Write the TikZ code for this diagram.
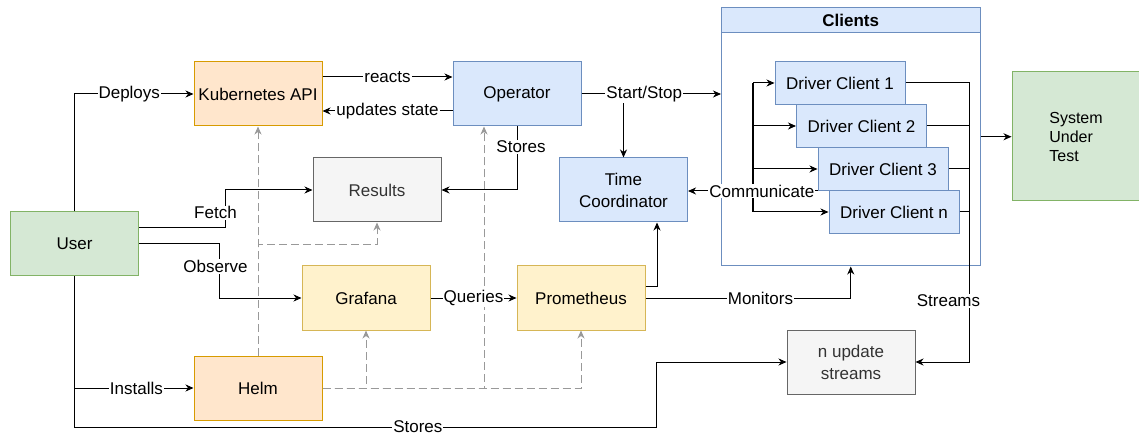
\documentclass[tikz,border=0pt]{standalone}
\usepackage{fontspec}
\setmainfont{Liberation Sans}
\usetikzlibrary{arrows.meta,calc}
\definecolor{orF}{HTML}{FFE6CC}\definecolor{orD}{HTML}{D79B00}
\definecolor{blF}{HTML}{DAE8FC}\definecolor{blD}{HTML}{6C8EBF}
\definecolor{grF}{HTML}{F5F5F5}\definecolor{grD}{HTML}{666666}\definecolor{grT}{HTML}{333333}
\definecolor{gnF}{HTML}{D5E8D4}\definecolor{gnD}{HTML}{82B366}
\definecolor{yeF}{HTML}{FFF2CC}\definecolor{yeD}{HTML}{D6B656}
\definecolor{dshC}{HTML}{999999}
\begin{document}
\begin{tikzpicture}[x=1pt,y=-1pt,
  box/.style={draw, line width=1pt, minimum width=128pt, minimum height=64pt, inner sep=0pt, align=center, font=\fontsize{17}{22}\selectfont},
  orbox/.style={box, fill=orF, draw=orD},
  blbox/.style={box, fill=blF, draw=blD},
  grbox/.style={box, fill=grF, draw=grD, text=grT},
  gnbox/.style={box, fill=gnF, draw=gnD},
  yebox/.style={box, fill=yeF, draw=yeD},
  dcbox/.style={box, fill=blF, draw=blD, minimum width=130pt, minimum height=43pt},
  arr/.style={draw=black, line width=1pt, -{Stealth[length=8pt,width=7pt,inset=2.5pt]}},
  ln/.style={draw=black, line width=1pt},
  dsharr/.style={draw=dshC, line width=1pt, dash pattern=on 8pt off 4pt, -{Stealth[length=8pt,width=7pt,inset=2.5pt]}},
  lbl/.style={fill=white, inner sep=1pt, font=\fontsize{17}{20}\selectfont, text=black},
]
\fill[white] (0,0) rectangle (1139,435);
\useasboundingbox (0,0) rectangle (1139,435);

% nodes
\node[orbox] (k8s) at (258,94) {Kubernetes API};
\node[blbox] (op) at (517,94) {Operator};
\node[grbox] (res) at (377,190) {Results};
\node[gnbox] (user) at (74.5,244) {User};
\node[blbox] (tc) at (623.5,190) {Time\\Coordinator};
\node[yebox] (graf) at (366,298) {Grafana};
\node[yebox] (prom) at (581,298) {Prometheus};
\node[orbox] (helm) at (258,388) {Helm};
\node[grbox] (nup) at (851,362) {n update\\streams};
\node[gnbox, minimum height=129pt, font=\fontsize{16}{19}\selectfont, align=left] (sut) at (1076,136.5) {System\\Under\\Test};

% clients container
\node[draw=blD, fill=white, line width=1pt, minimum width=258.5pt, minimum height=258.5pt, inner sep=0pt] (clients) at (850.75,136.75) {};
\node[draw=blD, fill=blF, line width=1pt, minimum width=258.5pt, minimum height=25pt, inner sep=0pt, font=\fontsize{17}{20}\selectfont\bfseries] (clhead) at (850.75,20) {Clients};
\node[dcbox] (dc1) at (840,83) {Driver Client 1};
\node[dcbox] (dc2) at (861.5,126) {Driver Client 2};
\node[dcbox] (dc3) at (883,169) {Driver Client 3};
\node[dcbox] (dcn) at (894,212) {Driver Client n};
\coordinate (busL) at (753,0);
\coordinate (busR) at (969,0);

% dashed helm edges
\draw[dsharr] (helm.north) -- (k8s.south);
\draw[dsharr] (helm.north) |- ($(res.south)+(0,22)$) -- (res.south);
\draw[dsharr] (helm.east) -| (graf.south);
\draw[dsharr] (helm.east) -| ($(op.south)+(-33,0)$);
\draw[dsharr] (helm.east) -| (prom.south);

% solid edges
\draw[arr] (user.north) |- node[lbl,pos=0.73]{Deploys} (k8s.west);
\draw[arr] ($(k8s.east)+(0,-17)$) -- node[lbl]{reacts} ($(op.west)+(0,-17)$);
\draw[arr] ($(op.west)+(0,17)$) -- node[lbl]{updates state} ($(k8s.east)+(0,17)$);
\draw[arr] (op.south) |- node[lbl,pos=0.16,xshift=4pt]{Stores} (res.east);
\draw[arr] ($(user.east)+(0,-16)$) -| node[lbl,pos=0.7,xshift=-10pt]{Fetch} ($(res.west)+(-87,0)$) -- (res.west);
\draw[arr] (user.east) -| node[lbl,pos=0.71,xshift=-4pt]{Observe} ($(graf.west)+(-82,0)$) -- (graf.west);
\draw[arr] (user.south) |- node[lbl,pos=0.76]{Installs} (helm.west);
\draw[arr] (user.south) |- node[lbl,pos=0.795]{Stores} ($(nup.west)+(-130,65)$) |- (nup.west);
\draw[arr] (graf.east) -- node[lbl]{Queries} (prom.west);
\draw[arr] ($(prom.east)+(0,-11)$) -| ($(tc.south)+(33.5,0)$);
\draw[arr] (prom.east) -| node[lbl,pos=0.28]{Monitors} (clients.south);
\draw[arr] (op.east) -| (tc.north);
\draw[arr] (op.east) -- node[lbl,pos=0.45]{Start/Stop} (op.east -| clients.west);

% client buses
\draw[ln, line width=1.5pt] (dc1.west -| busL) -- (dcn.west -| busL);
\draw[arr] (dc1.west -| busL) -- (dc1.west);
\draw[arr] (dc2.west -| busL) -- (dc2.west);
\draw[arr] (dc3.west -| busL) -- (dc3.west);
\draw[arr] (dcn.west -| busL) -- (dcn.west);
\draw[arr] (dc3.south west) -- node[lbl,pos=0.43]{Communicate} (dc3.south west -| tc.east);
\draw[ln] (dc2.east) -- (dc2.east -| busR);
\draw[ln] (dc3.east) -- (dc3.east -| busR);
\draw[ln] (dcn.east) -- (dcn.east -| busR);
\draw[arr] (dc1.east) -| node[lbl,pos=0.89,xshift=-21pt]{Streams} ($(nup.east)+(54,0)$) -- (nup.east);
\draw[arr] (clients.east) -- (clients.east -| sut.west);
\end{tikzpicture}
\end{document}
